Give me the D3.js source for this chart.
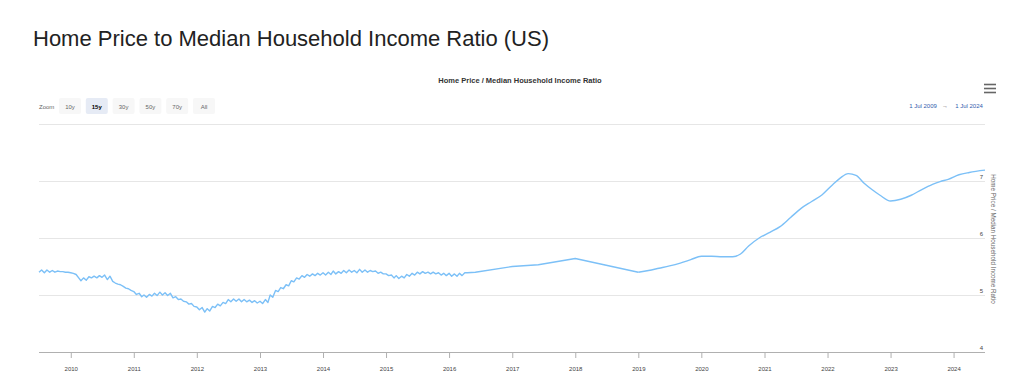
<!DOCTYPE html>
<html>
<head>
<meta charset="utf-8">
<script src="https://cdn.jsdelivr.net/npm/d3@7"></script>
<style>
  html, body { margin: 0; padding: 0; background: #fff; }
  svg { display: block; font-family: "Liberation Sans", Arial, sans-serif; }
</style>
</head>
<body>
<svg id="chart" width="1018" height="392"></svg>
<script>
// ---------- DATA ----------
const pageTitle = "Home Price to Median Household Income Ratio (US)";
const chartTitle = "Home Price / Median Household Income Ratio";
const yAxisTitle = "Home Price / Median Household Income Ratio";
const zoomButtons = ["10y", "15y", "30y", "50y", "70y", "All"];
const selectedZoom = "15y";
const rangeFrom = "1 Jul 2009";
const rangeTo = "1 Jul 2024";
const yTicks = [4, 5, 6, 7, 8];
const xTickYears = [2010, 2011, 2012, 2013, 2014, 2015, 2016, 2017, 2018, 2019, 2020, 2021, 2022, 2023, 2024];

// semi-monthly readings, Jul 2009 .. Apr 2016
const semiMonthlyStart = "2009-07-01";
const semiMonthlyValues = [
  5.40, 5.44, 5.39, 5.44, 5.40, 5.43, 5.40, 5.42, 5.41, 5.41, 5.40, 5.40,
  5.39, 5.38, 5.36, 5.30, 5.25, 5.30, 5.26, 5.32, 5.30, 5.33, 5.30, 5.34, 5.31, 5.35, 5.27, 5.33, 5.24, 5.21, 5.19, 5.18, 5.15, 5.12, 5.11, 5.08,
  5.06, 5.01, 5.03, 4.97, 5.00, 4.96, 5.01, 4.98, 5.03, 4.99, 5.05, 5.00, 5.04, 4.99, 5.03, 4.95, 4.97, 4.92, 4.93, 4.89, 4.88, 4.84, 4.85, 4.80,
  4.79, 4.74, 4.78, 4.70, 4.76, 4.72, 4.80, 4.78, 4.84, 4.81, 4.87, 4.85, 4.92, 4.88, 4.93, 4.89, 4.93, 4.88, 4.92, 4.88, 4.91, 4.87, 4.90, 4.86,
  4.89, 4.85, 4.92, 4.87, 5.00, 4.96, 5.08, 5.06, 5.13, 5.11, 5.18, 5.16, 5.25, 5.23, 5.30, 5.28, 5.34, 5.31, 5.36, 5.33, 5.37, 5.34, 5.38, 5.35,
  5.39, 5.35, 5.40, 5.36, 5.42, 5.37, 5.41, 5.38, 5.43, 5.39, 5.44, 5.40, 5.43, 5.39, 5.45, 5.40, 5.44, 5.40, 5.43, 5.41, 5.42, 5.38, 5.40, 5.37,
  5.37, 5.34, 5.35, 5.30, 5.34, 5.29, 5.33, 5.30, 5.36, 5.33, 5.38, 5.35, 5.40, 5.37, 5.41, 5.38, 5.40, 5.37, 5.40, 5.37, 5.39, 5.35, 5.38, 5.34,
  5.38, 5.33, 5.37, 5.33, 5.38, 5.34, 5.39, 5.39
];

// sparse readings, mid 2016 .. Jan 2019 (straight segments)
const sparseDates = ["2016-06-01", "2017-01-01", "2017-06-01", "2018-01-01", "2019-01-01"];
const sparseValues = [5.40, 5.50, 5.53, 5.64, 5.40];

// smooth readings, Jan 2019 .. Jul 2024
const smoothDates = [
  "2019-01-01", "2019-03-01", "2019-05-01", "2019-07-01", "2019-09-01", "2019-11-01",
  "2020-01-01", "2020-03-01", "2020-05-01", "2020-07-01", "2020-08-15", "2020-10-01", "2020-12-01",
  "2021-02-01", "2021-04-01", "2021-06-01", "2021-08-01", "2021-10-01", "2021-12-01",
  "2022-02-01", "2022-03-15", "2022-05-01", "2022-06-15", "2022-08-01", "2022-09-15", "2022-11-01",
  "2023-01-01", "2023-03-01", "2023-05-01", "2023-07-01", "2023-09-01", "2023-10-15", "2023-12-01",
  "2024-02-01", "2024-04-01", "2024-07-01"
];
const smoothValues = [
  5.40, 5.43, 5.47, 5.51, 5.56, 5.62,
  5.68, 5.68, 5.67, 5.67, 5.72, 5.86, 6.00,
  6.10, 6.20, 6.36, 6.52, 6.64, 6.76,
  6.94, 7.05, 7.13, 7.10, 6.96, 6.85, 6.75,
  6.65, 6.68, 6.75, 6.85, 6.94, 6.99, 7.03,
  7.11, 7.15, 7.19
];

// ---------- BUILD ----------
(function () {
const parse = d3.timeParse("%Y-%m-%d");
const early = [];
const s0 = parse(semiMonthlyStart);
semiMonthlyValues.forEach((v, i) => {
  const m = d3.timeMonth.offset(s0, Math.floor(i / 2));
  const d = i % 2 === 0 ? m : d3.timeDay.offset(m, 15);
  early.push({ date: d, value: v });
});
sparseDates.forEach((s, i) => early.push({ date: parse(s), value: sparseValues[i] }));
const late = smoothDates.map((s, i) => ({ date: parse(s), value: smoothValues[i] }));

const svg = d3.select("#chart");
const pLeft = 39, pRight = 985, pTop = 124, pBottom = 352;

const x = d3.scaleTime().domain([parse("2009-07-01"), parse("2024-07-01")]).range([pLeft, pRight]);
const y = d3.scaleLinear().domain([4, 8]).range([pBottom, pTop]);

// page title
svg.append("text").attr("x", 33).attr("y", 46)
  .attr("font-family", "'Liberation Sans', Arial, sans-serif")
  .attr("font-size", 22).attr("fill", "#222").text(pageTitle);

// chart title
svg.append("text").attr("x", 520).attr("y", 83).attr("text-anchor", "middle")
  .attr("font-size", 7.5).attr("font-weight", "bold").attr("fill", "#333").text(chartTitle);

// hamburger
const hb = svg.append("g").attr("stroke", "#666").attr("stroke-width", 1.6);
[84.5, 88.5, 92.5].forEach(yy => hb.append("line").attr("x1", 984).attr("x2", 996).attr("y1", yy).attr("y2", yy));

// zoom buttons
svg.append("text").attr("x", 39).attr("y", 108.5).attr("font-size", 6).attr("fill", "#666").text("Zoom");
zoomButtons.forEach((b, i) => {
  const bx = 59 + i * 26.8;
  const sel = b === selectedZoom;
  svg.append("rect").attr("x", bx).attr("y", 98).attr("width", 22).attr("height", 16)
    .attr("rx", 2).attr("fill", sel ? "#e6ebf5" : "#f7f7f7");
  svg.append("text").attr("x", bx + 11).attr("y", 108.5).attr("text-anchor", "middle")
    .attr("font-size", 6).attr("font-weight", sel ? "bold" : "normal")
    .attr("fill", sel ? "#000" : "#666").text(b);
});

// range labels
svg.append("text").attr("x", 923).attr("y", 108).attr("text-anchor", "middle")
  .attr("font-size", 6).attr("fill", "#335cad").text(rangeFrom);
svg.append("text").attr("x", 945).attr("y", 108).attr("text-anchor", "middle")
  .attr("font-size", 6).attr("fill", "#666").text("\u2192");
svg.append("text").attr("x", 969).attr("y", 108).attr("text-anchor", "middle")
  .attr("font-size", 6).attr("fill", "#335cad").text(rangeTo);

// gridlines + y labels (right)
const yAxis = d3.axisRight(y).tickValues(yTicks).tickSize(-(pRight - pLeft)).tickFormat(d => d === 8 ? "" : d);
const gy = svg.append("g").attr("transform", `translate(${pRight},0)`).call(yAxis);
gy.select(".domain").remove();
gy.selectAll(".tick line").attr("stroke", "#e6e6e6").attr("stroke-width", 1);
gy.selectAll(".tick text").attr("x", -2).attr("dy", "-0.35em").attr("text-anchor", "end")
  .attr("font-size", 6).attr("fill", "#444").attr("font-family", "'Liberation Sans', Arial, sans-serif");

// x axis
const xAxis = d3.axisBottom(x).tickValues(xTickYears.map(yr => new Date(yr, 0, 1)))
  .tickFormat(d3.timeFormat("%Y")).tickSize(6).tickPadding(9);
const gx = svg.append("g").attr("transform", `translate(0,${pBottom})`).call(xAxis);
gx.select(".domain").attr("stroke", "#b0b0b0").attr("d", `M${pLeft},0.5H${pRight}`);
gx.selectAll(".tick line").attr("stroke", "#b0b0b0");
gx.selectAll(".tick text").attr("font-size", 6).attr("fill", "#444")
  .attr("font-family", "'Liberation Sans', Arial, sans-serif");

// y axis title
svg.append("text").attr("transform", `translate(991,239) rotate(90)`).attr("text-anchor", "middle")
  .attr("font-size", 6.3).attr("fill", "#666").text(yAxisTitle);

// line (two pieces: angular early part, smooth late part)
const lineLin = d3.line().x(d => x(d.date)).y(d => y(d.value)).curve(d3.curveLinear);
const lineSmooth = d3.line().x(d => x(d.date)).y(d => y(d.value)).curve(d3.curveMonotoneX);
svg.append("path").datum(early).attr("d", lineLin).attr("fill", "none")
  .attr("stroke", "#7cc0f7").attr("stroke-width", 1.4).attr("stroke-linejoin", "round");
svg.append("path").datum(late).attr("d", lineSmooth).attr("fill", "none")
  .attr("stroke", "#7cc0f7").attr("stroke-width", 1.4).attr("stroke-linejoin", "round");
})();
</script>
</body>
</html>
